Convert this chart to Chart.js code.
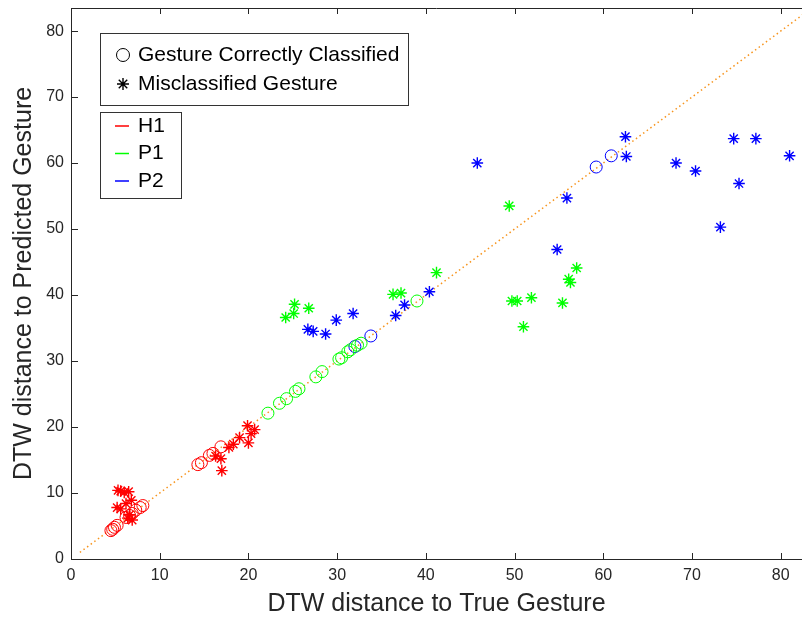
<!DOCTYPE html>
<html>
<head>
<meta charset="utf-8">
<script src="https://cdn.jsdelivr.net/npm/chart.js@4.4.1/dist/chart.umd.min.js"></script>
<style>
  html, body { margin: 0; padding: 0; background: #fff; overflow: hidden; }
  #wrap { width: 802px; height: 617px; position: relative; }
</style>
</head>
<body>
<div id="wrap"><canvas id="chart"></canvas></div>
<script>
/* ====== Data ====== */
const h1Correct = [[4.5,4.3],[4.7,4.5],[4.9,4.8],[5.2,5.1],[6.2,6.3],[6.6,6.6],[6.9,6.9],[7.3,7.4],[7.8,7.8],[8.1,8.1],
  [14.3,14.3],[14.7,14.6],[15.6,15.7],[16.0,16.0],[16.9,17.0]];
const h1Missed = [[5.3,10.4],[5.6,10.3],[6.0,10.1],[6.5,10.2],[6.8,8.9],[6.2,8.4],[5.2,7.8],[5.6,7.6],[6.6,6.7],[6.9,5.9],[6.4,6.2],
  [16.3,15.6],[16.9,15.2],[17.0,13.4],[17.8,16.9],[18.3,17.4],[19.0,18.4],[19.9,20.2],[20.3,19.0],[20.0,17.6],[20.7,19.6]];
const p1Correct = [[22.2,22.1],[23.5,23.6],[24.3,24.3],[25.3,25.4],[25.7,25.8],[27.6,27.6],[28.3,28.4],[30.2,30.3],[30.5,30.5],
  [31.2,31.4],[31.5,31.7],[32.3,32.4],[32.7,32.7],[39.0,39.1]];
const p1Missed = [[24.2,36.6],[25.2,38.6],[25.1,37.2],[26.8,38.0],[36.3,40.1],[37.2,40.3],[41.2,43.4],[49.4,53.5],[57.0,44.1],
  [56.1,42.4],[56.3,41.9],[49.7,39.1],[50.3,39.1],[51.9,39.6],[55.4,38.8],[51.0,35.2]];
const p2Correct = [[32.0,32.2],[33.8,33.8],[59.2,59.4],[60.9,61.1]];
const p2Missed = [[26.7,34.8],[27.3,34.5],[28.7,34.1],[29.9,36.2],[31.8,37.2],[36.6,36.9],[37.6,38.5],[40.4,40.5],[45.8,60.0],
  [55.9,54.7],[54.8,46.9],[62.6,61.0],[62.5,64.0],[68.2,60.0],[70.4,58.8],[74.7,63.7],[77.2,63.7],[75.3,56.9],[73.2,50.3],[81.0,61.1]];
const diagonal = [[1,1],[84,84]];

const xTicks = [0, 10, 20, 30, 40, 50, 60, 70, 80];
const yTicks = [0, 10, 20, 30, 40, 50, 60, 70, 80];
const xRange = [0, 82.4];
const yRange = [0, 83.5];

const groups = ["H1", "P1", "P2"];
const groupColors = ["#ff0000", "#00ff00", "#0000ff"];
const markerLabels = ["Gesture Correctly Classified", "Misclassified Gesture"];

const FONT = "'Liberation Sans', Arial, Helvetica, sans-serif";
const INK = "#262626";

const pts = arr => arr.map(([x, y]) => ({ x, y }));

function circleSet(arr, color) {
  return { data: pts(arr), pointStyle: "circle", pointRadius: 6, pointHoverRadius: 6,
    borderColor: color, backgroundColor: "rgba(0,0,0,0)", pointBorderWidth: 1, showLine: false };
}
function starSet(arr, color) {
  return { data: pts(arr), pointStyle: "star", pointRadius: 5.8, pointHoverRadius: 5.8,
    borderColor: color, backgroundColor: color, pointBorderWidth: 1.4, showLine: false };
}

/* ====== Frame: top border + inward ticks + legend boxes ====== */
const framePlugin = {
  id: "frame",
  afterDraw(chart) {
    const { ctx, chartArea: a, scales: { x, y } } = chart;
    ctx.save();
    ctx.strokeStyle = INK;
    ctx.lineWidth = 1;
    ctx.beginPath();
    ctx.moveTo(a.left, a.top + 0.5);
    ctx.lineTo(a.right, a.top + 0.5);
    xTicks.forEach(v => {
      const px = Math.round(x.getPixelForValue(v)) + 0.5;
      ctx.moveTo(px, a.bottom); ctx.lineTo(px, a.bottom - 6);
      ctx.moveTo(px, a.top); ctx.lineTo(px, a.top + 6);
    });
    yTicks.forEach(v => {
      const py = Math.round(y.getPixelForValue(v)) + 0.5;
      ctx.moveTo(a.left, py); ctx.lineTo(a.left + 7, py);
    });
    ctx.stroke();

    // marker legend
    ctx.fillStyle = "#fff";
    ctx.fillRect(100, 33, 308, 72);
    ctx.strokeStyle = "#333";
    ctx.strokeRect(100.5, 33.5, 308, 72);
    ctx.strokeStyle = "#000";
    ctx.beginPath();
    ctx.arc(123, 55, 6.5, 0, Math.PI * 2);
    ctx.stroke();
    ctx.beginPath();
    const sx = 123, sy = 84, r = 6, d = r * Math.SQRT1_2;
    ctx.moveTo(sx - r, sy); ctx.lineTo(sx + r, sy);
    ctx.moveTo(sx, sy - r); ctx.lineTo(sx, sy + r);
    ctx.moveTo(sx - d, sy - d); ctx.lineTo(sx + d, sy + d);
    ctx.moveTo(sx - d, sy + d); ctx.lineTo(sx + d, sy - d);
    ctx.lineWidth = 1.4;
    ctx.stroke();
    ctx.lineWidth = 1;
    ctx.fillStyle = "#000";
    ctx.font = "21px " + FONT;
    ctx.textBaseline = "middle";
    ctx.fillText(markerLabels[0], 138, 55);
    ctx.fillText(markerLabels[1], 138, 84);

    // colour legend
    ctx.fillStyle = "#fff";
    ctx.fillRect(100, 112, 81, 86);
    ctx.strokeStyle = "#333";
    ctx.strokeRect(100.5, 112.5, 81, 86);
    groups.forEach((g, i) => {
      const ly = 126 + i * 27.5;
      ctx.strokeStyle = groupColors[i];
      ctx.lineWidth = 1.5;
      ctx.beginPath();
      ctx.moveTo(115, ly); ctx.lineTo(129, ly);
      ctx.stroke();
      ctx.fillStyle = "#000";
      ctx.fillText(g, 138, ly);
    });
    ctx.restore();
  }
};

const datasets = [
  circleSet(h1Correct, groupColors[0]),
  starSet(h1Missed, groupColors[0]),
  circleSet(p1Correct, groupColors[1]),
  starSet(p1Missed, groupColors[1]),
  starSet(p2Missed, groupColors[2]),
  circleSet(p2Correct, groupColors[2]),
  { type: "line", data: pts(diagonal), borderColor: "#f7941d", borderWidth: 1.5,
    borderDash: [1.5, 3], pointRadius: 0, fill: false, order: 10 }
];

new Chart(document.getElementById("chart"), {
  type: "scatter",
  data: { datasets },
  options: {
    responsive: true,
    maintainAspectRatio: false,
    animation: false,
    layout: { autoPadding: false, padding: { top: 8, left: 0, right: 0, bottom: 0 } },
    plugins: { legend: { display: false }, tooltip: { enabled: false } },
    scales: {
      x: {
        type: "linear", min: xRange[0], max: xRange[1],
        afterBuildTicks: s => { s.ticks = xTicks.map(v => ({ value: v })); },
        afterFit: s => { s.height = 58; s.paddingLeft = 0; s.paddingRight = 0; },
        grid: { display: false, drawTicks: false },
        border: { display: true, color: INK, width: 1 },
        ticks: { color: INK, padding: 7, font: { family: FONT, size: 16 }, maxRotation: 0 },
        title: { display: true, text: "DTW distance to True Gesture", color: INK,
          font: { family: FONT, size: 25 }, padding: { top: 0, bottom: -2 } }
      },
      y: {
        type: "linear", min: yRange[0], max: yRange[1],
        afterBuildTicks: s => { s.ticks = yTicks.map(v => ({ value: v })); },
        afterFit: s => { s.width = 71; s.paddingTop = 0; s.paddingBottom = 0; },
        grid: { display: false, drawTicks: false },
        border: { display: true, color: INK, width: 1 },
        ticks: { color: INK, padding: 7, font: { family: FONT, size: 16 } },
        title: { display: true, text: "DTW distance to Predicted Gesture", color: INK,
          font: { family: FONT, size: 25 }, padding: { top: 9, bottom: 0 } }
      }
    }
  },
  plugins: [framePlugin]
});
</script>
</body>
</html>
